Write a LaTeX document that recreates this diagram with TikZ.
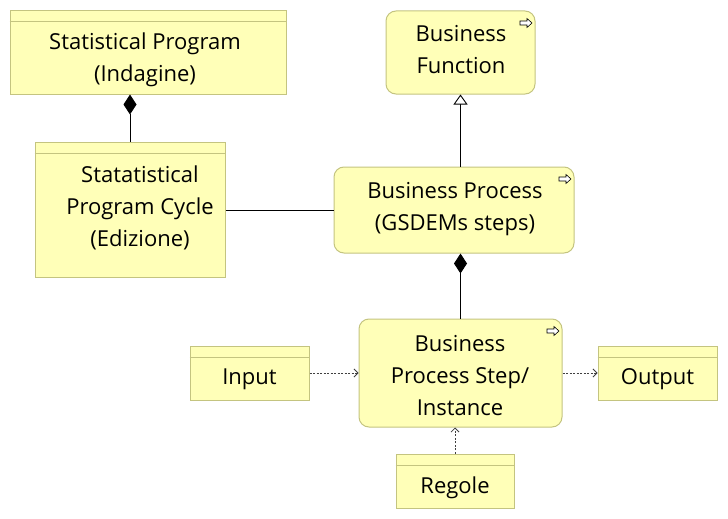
\documentclass[tikz,border=0pt]{standalone}
\usepackage{fontspec}
\setmainfont{Open Sans}
\usetikzlibrary{arrows.meta}
\definecolor{boxfill}{RGB}{255,255,184}
\definecolor{boxdraw}{RGB}{196,196,128}
\definecolor{depline}{RGB}{64,64,64}
\tikzset{
  boxbase/.style={draw=boxdraw, fill=boxfill, line width=1pt, inner sep=0pt},
  classbox/.style={boxbase},
  funcbox/.style={boxbase, rounded corners=10pt},
  txt/.style={align=center, inner sep=0pt, font=\fontsize{22}{32}\selectfont},
  assoc/.style={line width=0.9pt, black},
  compos/.style={assoc, -{Diamond[length=20pt,width=13pt]}},
  generalize/.style={assoc, -{Triangle[open,length=10pt,width=14pt,fill=white]}},
  depend/.style={depline, line width=0.8pt, dash pattern=on 2pt off 1.5pt, -{Straight Barb[length=4pt,width=8pt,line width=0.8pt]}},
}
\newcommand\bpicon[1]{%
  \draw[black, line width=0.6pt, fill=white, line join=miter]
    ([xshift=-6pt,yshift=2pt]#1) -- ++(7pt,0) -- ++(0,2.5pt) -- ++(5pt,-4.5pt)
    -- ++(-5pt,-4.5pt) -- ++(0,2.5pt) -- ++(-7pt,0) -- cycle;}
\begin{document}
\begin{tikzpicture}[x=1pt,y=-1pt]
\useasboundingbox (0,0) rectangle (728,519);
\fill[white] (0,0) rectangle (728,519);

% class boxes
\node[classbox, minimum width=276pt, minimum height=83pt] (sp) at (148,52.5) {};
\node[classbox, minimum width=190pt, minimum height=135pt] (spc) at (130,209.5) {};
\node[classbox, minimum width=119pt, minimum height=54pt] (inp) at (249.5,373) {};
\node[classbox, minimum width=119pt, minimum height=54pt] (out) at (657.5,373) {};
\node[classbox, minimum width=118pt, minimum height=54pt] (reg) at (455,481) {};
\foreach \n/\h in {sp/11, spc/12, inp/12, out/12, reg/12}
  \draw[boxdraw, line width=1pt] ([yshift=-\h pt]\n.north west) -- ([yshift=-\h pt]\n.north east);

% function / process boxes
\node[funcbox, minimum width=149pt, minimum height=83pt] (bf) at (460.5,52.5) {};
\node[funcbox, minimum width=240pt, minimum height=86pt] (bp) at (454,210) {};
\node[funcbox, minimum width=203pt, minimum height=108pt] (bps) at (460.5,373) {};
\foreach \n in {bf, bp, bps}{
  \coordinate (\n ic) at ([xshift=-9.5pt,yshift=-12.5pt]\n.north east);
  \bpicon{\n ic}
}

% texts
\node[txt] (sptxt) at (145,60) {Statistical Program\\(Indagine)};
\node[txt] (spctxt) at (140,207.5) {Statatistical\\Program Cycle\\(Edizione)};
\node[txt] (bftxt) at (461,50) {Business\\Function};
\node[txt] (bptxt) at (455,209) {Business Process\\(GSDEMs steps)};
\node[txt] (bpstxt) at (460,376) {Business\\Process Step/\\Instance};
\node[txt] (inptxt) at (249.5,379.5) {Input};
\node[txt] (outtxt) at (657.5,379.5) {Output};
\node[txt] (regtxt) at (455,488) {Regole};

% connectors
\draw[compos] (spc.north) -- (spc.north |- sp.south);
\draw[assoc] (spc.east |- bp.west) -- (bp.west);
\draw[generalize] (bf.south |- bp.north) -- (bf.south);
\draw[compos] (bps.north) -- (bps.north |- bp.south);
\draw[depend] (inp) -- (bps);
\draw[depend] (bps) -- (out);
\draw[depend] (reg.north) -- (reg.north |- bps.south);
\end{tikzpicture}
\end{document}
